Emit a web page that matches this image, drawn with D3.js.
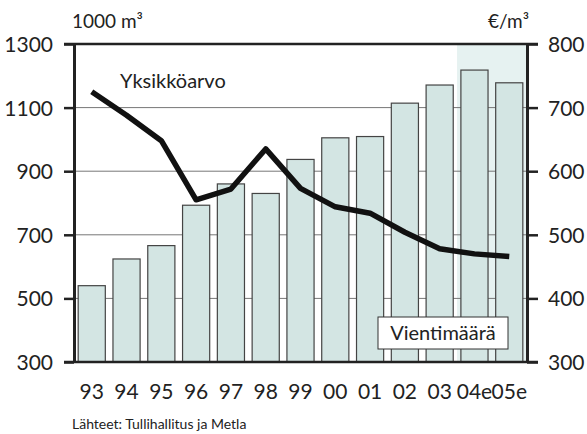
<!DOCTYPE html>
<html>
<head>
<meta charset="utf-8">
<script src="https://cdn.jsdelivr.net/npm/d3@7"></script>
<style>
  body { margin: 0; background: #fff; }
  text { font-family: Lato, "Open Sans", sans-serif; fill: #222; }
</style>
</head>
<body>
<div id="chart"></div>
<script>
var years = ["93", "94", "95", "96", "97", "98", "99", "00", "01", "02", "03", "04e", "05e"];
var volume = [540, 624, 666, 793, 860, 830, 937, 1005, 1009, 1114, 1171, 1218, 1178];
var unitValue = [725, 688, 648, 555, 572, 635, 573, 544, 534, 504, 478, 470, 466];
var leftTicks = [300, 500, 700, 900, 1100, 1300];
var rightTicks = [300, 400, 500, 600, 700, 800];
var estimateYears = ["04e", "05e"];

var width = 587, height = 434;
var margin = { top: 44, right: 60, bottom: 72, left: 74 };
var w = width - margin.left - margin.right;
var h = height - margin.top - margin.bottom;

var svg = d3.select("#chart").append("svg")
  .attr("width", width)
  .attr("height", height);

var g = svg.append("g")
  .attr("transform", "translate(" + margin.left + "," + margin.top + ")");

var x = d3.scaleBand().domain(years).range([0, w])
  .paddingInner(0.22).paddingOuter(0.12);
var yL = d3.scaleLinear().domain([300, 1300]).range([h, 0]);
var yR = d3.scaleLinear().domain([300, 800]).range([h, 0]);

// shaded estimate area
var estStart = x(estimateYears[0]) - x.step() * x.paddingInner() / 2;
g.append("rect")
  .attr("x", estStart)
  .attr("y", 0)
  .attr("width", w - estStart)
  .attr("height", h)
  .attr("fill", "#e6f2f1");

// gridlines
g.selectAll(".grid")
  .data(leftTicks.slice(1, -1))
  .enter().append("line")
  .attr("x1", 0).attr("x2", w)
  .attr("y1", function (d) { return yL(d); })
  .attr("y2", function (d) { return yL(d); })
  .attr("stroke", "#777")
  .attr("stroke-width", 1);

// bars
g.selectAll(".bar")
  .data(volume)
  .enter().append("rect")
  .attr("x", function (d, i) { return x(years[i]); })
  .attr("y", function (d) { return yL(d); })
  .attr("width", x.bandwidth())
  .attr("height", function (d) { return h - yL(d); })
  .attr("fill", "#d3e5e3")
  .attr("stroke", "#444")
  .attr("stroke-width", 1.2);

// axes
var left = g.append("g")
  .call(d3.axisLeft(yL).tickValues(leftTicks).tickFormat(d3.format("d"))
    .tickSize(10).tickSizeOuter(0).tickPadding(11));
var right = g.append("g")
  .attr("transform", "translate(" + w + ",0)")
  .call(d3.axisRight(yR).tickValues(rightTicks).tickFormat(d3.format("d"))
    .tickSize(11).tickSizeOuter(0).tickPadding(10));
var bottom = g.append("g")
  .attr("transform", "translate(0," + h + ")")
  .call(d3.axisBottom(x).tickSize(0).tickPadding(22));

[left, right].forEach(function (a) {
  a.selectAll("path").attr("stroke", "#222").attr("stroke-width", 3);
  a.selectAll("line").attr("stroke", "#222").attr("stroke-width", 2.5);
  a.selectAll("text").attr("font-size", 21).attr("fill", "#222").attr("dy", "0.36em");
});
bottom.select("path").remove();
bottom.selectAll("text").attr("font-size", 21).attr("fill", "#222");

// top and bottom frame lines
[0, h].forEach(function (yy) {
  g.append("line")
    .attr("x1", -10).attr("x2", w + 11)
    .attr("y1", yy).attr("y2", yy)
    .attr("stroke", "#222")
    .attr("stroke-width", 2.5);
});

// unit value line
var line = d3.line()
  .x(function (d, i) { return x(years[i]) + x.bandwidth() / 2; })
  .y(function (d) { return yR(d); });
g.append("path")
  .datum(unitValue)
  .attr("d", line)
  .attr("fill", "none")
  .attr("stroke", "#111")
  .attr("stroke-width", 5.5)
  .attr("stroke-linejoin", "round");

// labels
g.append("text")
  .attr("x", 46).attr("y", 44)
  .attr("font-size", 20)
  .text("Yksikköarvo");

var boxX = 304, boxY = 273, boxW = 130, boxH = 32;
g.append("rect")
  .attr("x", boxX).attr("y", boxY)
  .attr("width", boxW).attr("height", boxH)
  .attr("fill", "#fff")
  .attr("stroke", "#333")
  .attr("stroke-width", 1);
g.append("text")
  .attr("x", boxX + boxW / 2).attr("y", boxY + 23)
  .attr("text-anchor", "middle")
  .attr("font-size", 20)
  .text("Vientimäärä");

svg.append("text")
  .attr("x", 72).attr("y", 28)
  .attr("font-size", 19)
  .text("1000 m³");
svg.append("text")
  .attr("x", 529).attr("y", 28)
  .attr("text-anchor", "end")
  .attr("font-size", 19)
  .text("€/m³");

svg.append("text")
  .attr("x", 72).attr("y", 429)
  .attr("font-size", 14)
  .text("Lähteet: Tullihallitus ja Metla");
</script>
</body>
</html>
